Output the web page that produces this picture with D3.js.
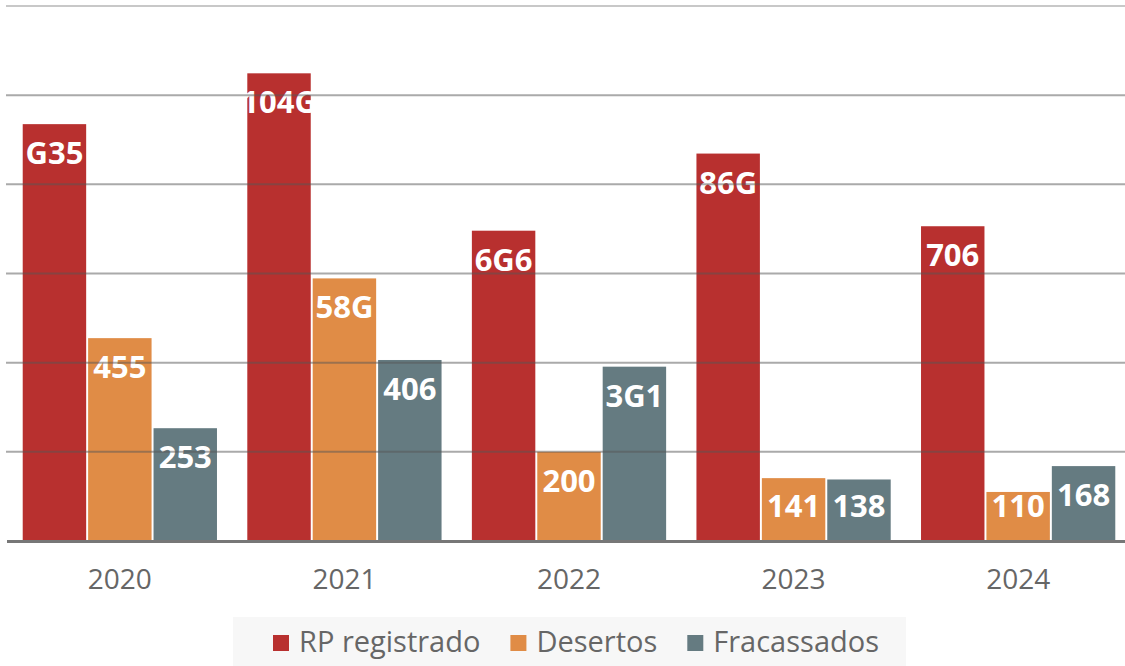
<!DOCTYPE html>
<html>
<head>
<meta charset="utf-8">
<script src="https://cdn.jsdelivr.net/npm/d3@7"></script>
<style>
  html, body { margin: 0; padding: 0; background: #fff; }
  svg { display: block; font-family: "Open Sans", sans-serif; }
</style>
</head>
<body>
<div id="chart"></div>
<script>
let years = ['2020', '2021', '2022', '2023', '2024'];
let seriesNames = ['RP registrado', 'Desertos', 'Fracassados'];
let rpRegistrado = [935, 1049, 696, 869, 706];
let desertos = [455, 589, 200, 141, 110];
let fracassados = [253, 406, 391, 138, 168];
let yTicks = [0, 200, 400, 600, 800, 1000, 1200];
let colors = ['#b8302f', '#e08c46', '#657b81'];

let width = 1125;
let height = 666;

let svg = d3.select('#chart').append('svg')
  .attr('width', width)
  .attr('height', height);

let rows = years.map((yr, i) => ({
  year: yr,
  values: [rpRegistrado[i], desertos[i], fracassados[i]]
}));

const x0 = d3.scaleBand()
  .domain(years)
  .range([7, 1131])
  .paddingInner(0.135)
  .paddingOuter(0.07);

const x1 = d3.scaleBand()
  .domain(seriesNames)
  .range([0, x0.bandwidth()])
  .paddingInner(0.03);

const y = d3.scaleLinear()
  .domain([0, 1200])
  .range([541, 6]);

// bars
const groups = svg.append('g').selectAll('g')
  .data(rows)
  .enter()
  .append('g')
  .attr('transform', d => 'translate(' + x0(d.year) + ',0)');

groups.selectAll('rect')
  .data(d => d.values.map((v, j) => ({name: seriesNames[j], value: v, idx: j})))
  .enter()
  .append('rect')
  .attr('x', d => x1(d.name))
  .attr('y', d => y(d.value))
  .attr('width', x1.bandwidth())
  .attr('height', d => y(0) - y(d.value))
  .attr('fill', d => colors[d.idx]);

// gridlines drawn over the bars, semi transparent like the original
svg.append('g')
  .selectAll('line')
  .data(yTicks.filter(t => t > 0))
  .enter()
  .append('line')
  .attr('x1', 6)
  .attr('x2', width)
  .attr('y1', d => y(d))
  .attr('y2', d => y(d))
  .attr('stroke', d => d === 1200 ? '#c8c8c8' : '#555')
  .attr('stroke-opacity', d => d === 1200 ? 1 : 0.5)
  .attr('stroke-width', 2);

// baseline
svg.append('line')
  .attr('x1', 7)
  .attr('x2', width)
  .attr('y1', y(0) + 0.5)
  .attr('y2', y(0) + 0.5)
  .attr('stroke', '#777')
  .attr('stroke-width', 3);

// value labels (the source renders the digit 9 as "G")
const fmt = v => String(v).replace(/9/g, 'G');
groups.selectAll('text')
  .data(d => d.values.map((v, j) => ({name: seriesNames[j], value: v})))
  .enter()
  .append('text')
  .attr('x', d => x1(d.name) + x1.bandwidth() / 2)
  .attr('y', d => Math.min(y(d.value) + 40, 517))
  .attr('text-anchor', 'middle')
  .attr('fill', '#fff')
  .attr('font-weight', 'bold')
  .attr('font-size', '31px')
  .text(d => fmt(d.value));

// x axis labels
svg.append('g')
  .selectAll('text')
  .data(years)
  .enter()
  .append('text')
  .attr('x', d => x0(d) + x0.bandwidth() / 2)
  .attr('y', 589)
  .attr('text-anchor', 'middle')
  .attr('fill', '#666')
  .attr('font-size', '28px')
  .text(d => d);

// legend
const legend = svg.append('g');
legend.append('rect')
  .attr('x', 233)
  .attr('y', 617)
  .attr('width', 673)
  .attr('height', 50)
  .attr('fill', '#f7f7f7');

const items = legend.selectAll('g.item')
  .data(seriesNames)
  .enter()
  .append('g')
  .attr('class', 'item');

items.append('rect')
  .attr('width', 16)
  .attr('height', 16)
  .attr('y', 635)
  .attr('fill', (d, i) => colors[i]);

items.append('text')
  .attr('y', 652)
  .attr('fill', '#666')
  .attr('font-size', '29px')
  .text(d => d);

let widths = [];
items.select('text').each(function () { widths.push(this.getComputedTextLength()); });
let gap = 30;
let total = d3.sum(widths) + widths.length * 26 + (widths.length - 1) * gap;
let cx = 576 - total / 2;
items.each(function (d, i) {
  d3.select(this).select('rect').attr('x', cx);
  d3.select(this).select('text').attr('x', cx + 26);
  cx += 26 + widths[i] + gap;
});
</script>
</body>
</html>
